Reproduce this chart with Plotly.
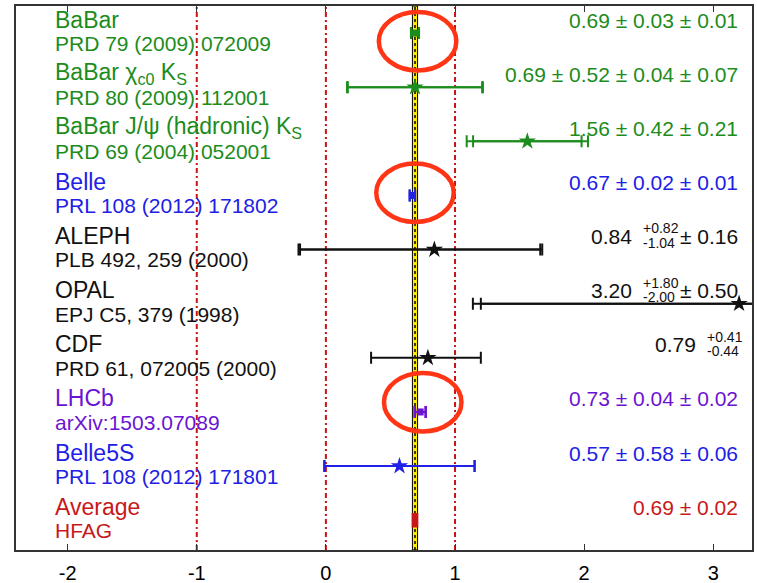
import math
import plotly.graph_objects as go

# Measurements, listed top to bottom
labels = [
    "BaBar",
    "BaBar χ<sub>c0</sub> K<sub>S</sub>",
    "BaBar J/ψ (hadronic) K<sub>S</sub>",
    "Belle",
    "ALEPH",
    "OPAL",
    "CDF",
    "LHCb",
    "Belle5S",
    "Average",
]
refs = [
    "PRD 79 (2009) 072009",
    "PRD 80 (2009) 112001",
    "PRD 69 (2004) 052001",
    "PRL 108 (2012) 171802",
    "PLB 492, 259 (2000)",
    "EPJ C5, 379 (1998)",
    "PRD 61, 072005 (2000)",
    "arXiv:1503.07089",
    "PRL 108 (2012) 171801",
    "HFAG",
]
values = [0.69, 0.69, 1.56, 0.67, 0.84, 3.20, 0.79, 0.73, 0.57, 0.69]
stat_hi = [0.03, 0.52, 0.42, 0.02, 0.82, 1.80, 0.41, 0.04, 0.58, 0.02]
stat_lo = [0.03, 0.52, 0.42, 0.02, 1.04, 2.00, 0.44, 0.04, 0.58, 0.02]
syst = [[0.01], [0.04, 0.07], [0.21], [0.01], [0.16], [0.50], [], [0.02], [0.06], []]
colors = ["#1c8c1c", "#1c8c1c", "#1c8c1c", "#2020e6", "#111111", "#111111",
          "#111111", "#6a14d2", "#2020e6", "#c81818"]
symbols = ["square", "star", "star", "square", "star", "star", "star", "square", "star", None]
highlighted = [0, 3, 7]

x_ticks = [-2, -1, 0, 1, 2, 3]
ref_lines = [-1, 0, 1]
avg_value = values[-1]
avg_err = stat_hi[-1]

X_RANGE = [-2.40, 3.30]
Y_RANGE = [9.55, -0.50]
VALUE_X = 3.21
LABEL_X = -2.11

CHAR_W = {".": 0.278, " ": 0.278, "±": 0.584, "+": 0.584, "-": 0.333}


def text_width(s, size):
    return sum(CHAR_W.get(c, 0.556) for c in s) * size


fig = go.Figure()

# error bars and markers
for i in range(len(values) - 1):
    v = values[i]
    sq = sum(e * e for e in syst[i])
    tot_hi = math.sqrt(stat_hi[i] ** 2 + sq)
    tot_lo = math.sqrt(stat_lo[i] ** 2 + sq)
    c = colors[i]
    fig.add_trace(go.Scatter(
        x=[v], y=[i], mode="markers",
        marker=dict(size=1, color=c),
        error_x=dict(type="data", symmetric=False, array=[tot_hi], arrayminus=[tot_lo],
                     color=c, thickness=2, width=6),
        showlegend=False, hoverinfo="skip",
    ))
    if syst[i]:
        fig.add_trace(go.Scatter(
            x=[v], y=[i], mode="markers",
            marker=dict(size=1, color=c),
            error_x=dict(type="data", symmetric=False, array=[stat_hi[i]],
                         arrayminus=[stat_lo[i]], color=c, thickness=2, width=6),
            showlegend=False, hoverinfo="skip",
        ))
    sym = symbols[i]
    fig.add_trace(go.Scatter(
        x=[v], y=[i], mode="markers",
        marker=dict(symbol=sym, size=13 if sym == "star" else 7, color=c,
                    line=dict(width=0)),
        showlegend=False, hoverinfo="skip",
    ))

shapes = []
# average band
shapes.append(dict(type="rect", xref="x", yref="paper", x0=avg_value - avg_err,
                   x1=avg_value + avg_err, y0=0, y1=1, fillcolor="#ffec00",
                   line=dict(color="black", width=1), layer="below"))
shapes.append(dict(type="line", xref="x", yref="paper", x0=avg_value, x1=avg_value,
                   y0=0, y1=1, line=dict(color="black", width=1.5, dash="3px,3px"),
                   layer="below"))
# reference lines
for xl in ref_lines:
    shapes.append(dict(type="line", xref="x", yref="paper", x0=xl, x1=xl, y0=0, y1=1,
                       line=dict(color="#c81414", width=2, dash="5px,3px,2px,3px"),
                       layer="below"))
# average box
n_avg = len(values) - 1
shapes.append(dict(type="rect", xref="x", yref="y", x0=avg_value - avg_err,
                   x1=avg_value + avg_err, y0=n_avg - 0.12, y1=n_avg + 0.12,
                   fillcolor=colors[-1], line=dict(color=colors[-1], width=1.5)))
# highlight rings around the precise measurements
ring_dy = {0: 0.15, 3: -0.05, 7: -0.18}
for i in highlighted:
    cx = values[i] + 0.02
    cy = i + ring_dy.get(i, 0)
    shapes.append(dict(type="circle", xref="x", yref="y", x0=cx - 0.30, x1=cx + 0.30,
                       y0=cy - 0.54, y1=cy + 0.54, line=dict(color="#ff3516", width=4.5)))

annotations = []
for i in range(len(values)):
    c = colors[i]
    annotations.append(dict(x=LABEL_X, y=i - 0.25, xref="x", yref="y", text=labels[i],
                            showarrow=False, xanchor="left", yanchor="middle",
                            font=dict(size=23, color=c)))
    annotations.append(dict(x=LABEL_X, y=i + 0.19, xref="x", yref="y", text=refs[i],
                            showarrow=False, xanchor="left", yanchor="middle",
                            font=dict(size=21, color=c)))
    v = values[i]
    tail = "  ".join(f"± {e:.2f}" for e in syst[i])
    ty = i - 0.24
    if stat_hi[i] == stat_lo[i]:
        txt = f"{v:.2f} ± {stat_hi[i]:.2f}" + "".join(f" ± {e:.2f}" for e in syst[i])
        annotations.append(dict(x=VALUE_X, y=ty, xref="x", yref="y", text=txt,
                                showarrow=False, xanchor="right", yanchor="middle",
                                font=dict(size=21, color=c)))
    else:
        w_t = text_width(tail, 21) + 5 if tail else 0
        up = f"+{stat_hi[i]:.2f}"
        dn = f"-{stat_lo[i]:.2f}"
        w_s = max(text_width(up, 14), text_width(dn, 14))
        if tail:
            annotations.append(dict(x=VALUE_X, y=ty, xref="x", yref="y", text=tail,
                                    showarrow=False, xanchor="right", yanchor="middle",
                                    font=dict(size=21, color=c)))
        for s, dy in ((up, -0.15), (dn, 0.11)):
            annotations.append(dict(x=VALUE_X, y=ty + dy, xref="x", yref="y", text=s,
                                    showarrow=False, xanchor="left", yanchor="middle",
                                    xshift=-(w_t + w_s), font=dict(size=14, color=c)))
        annotations.append(dict(x=VALUE_X, y=ty, xref="x", yref="y", text=f"{v:.2f}",
                                showarrow=False, xanchor="right", yanchor="middle",
                                xshift=-(w_t + w_s + 7), font=dict(size=21, color=c)))

fig.update_layout(
    width=757, height=583,
    margin=dict(l=16, r=5, t=6, b=33),
    paper_bgcolor="white", plot_bgcolor="white",
    font=dict(family="Liberation Sans, Arial, sans-serif", color="black"),
    shapes=shapes, annotations=annotations,
    xaxis=dict(range=X_RANGE, tickvals=x_ticks, ticktext=[str(t) for t in x_ticks],
               ticks="inside", ticklen=6, tickwidth=1, tickcolor="#333",
               showline=True, linecolor="#333", linewidth=1.5, mirror="ticks",
               showgrid=False, zeroline=False, tickfont=dict(size=20),
               ticklabelstandoff=4, automargin=False),
    yaxis=dict(range=Y_RANGE, showticklabels=False, ticks="", showline=True,
               linecolor="#333", linewidth=1.5, mirror=True, showgrid=False,
               zeroline=False, automargin=False),
)

fig.write_html("out.html")
